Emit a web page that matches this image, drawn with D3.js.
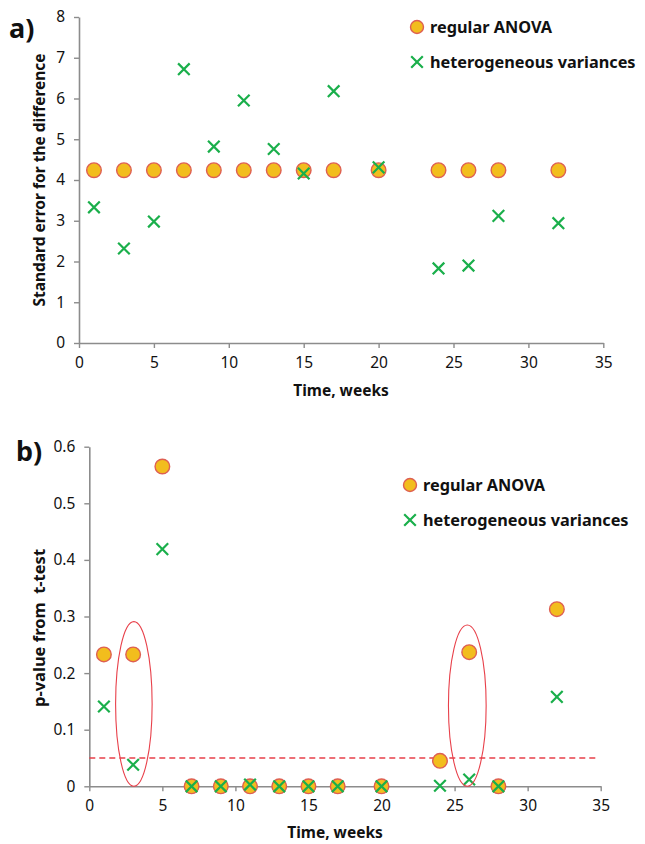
<!DOCTYPE html>
<html>
<head>
<meta charset="utf-8">
<script src="https://cdn.jsdelivr.net/npm/d3@7"></script>
<style>
  body { margin: 0; background: #fff; }
  svg text { font-family: "Noto Sans", sans-serif; fill: #111; }
</style>
</head>
<body>
<div id="chart"></div>
<script>
// sampling times (weeks)
var weeks = [1, 3, 5, 7, 9, 11, 13, 15, 17, 20, 24, 26, 28, 32];

// a) standard error for the difference
var seAnova = [4.24, 4.24, 4.24, 4.24, 4.24, 4.24, 4.24, 4.24, 4.24, 4.24, 4.24, 4.24, 4.24, 4.24];
var seHetero = [3.33, 2.32, 2.98, 6.72, 4.82, 5.95, 4.76, 4.16, 6.18, 4.31, 1.83, 1.90, 3.12, 2.94];

// b) p-value from t-test
var pAnova = [0.233, 0.233, 0.565, 0, 0, 0, 0, 0, 0, 0, 0.045, 0.237, 0, 0.313];
var pHetero = [0.141, 0.038, 0.419, 0, 0, 0.003, 0, 0, 0, 0, 0.001, 0.012, 0, 0.158];
var pThreshold = 0.05;

// circled weeks in panel b: centre week, half width (weeks), top p
var circleWeeks = [3.05, 25.87];
var circleHalfWidth = [1.25, 1.29];
var circleTop = [0.291, 0.285];

var xTicks = [0, 5, 10, 15, 20, 25, 30, 35];
var seTicks = [0, 1, 2, 3, 4, 5, 6, 7, 8];
var pTicks = [0, 0.1, 0.2, 0.3, 0.4, 0.5, 0.6];

var seriesNames = ["regular ANOVA", "heterogeneous variances"];

var AXIS = "#8c8c8c";
var FILL = "#f2bd1d";
var RING = "#de5f52";
var GREEN = "#1aaf4b";
var RED = "#e8404a";

var svg = d3.select("#chart").append("svg")
  .attr("width", 645)
  .attr("height", 844);

function drawCross(g, x, y, s) {
  g.append("path")
    .attr("d", "M" + (x - s) + "," + (y - s) + "L" + (x + s) + "," + (y + s) +
      "M" + (x - s) + "," + (y + s) + "L" + (x + s) + "," + (y - s))
    .attr("stroke", GREEN)
    .attr("stroke-width", 2.2)
    .attr("fill", "none");
}

function drawPanel(o) {
  var g = svg.append("g");
  var x = d3.scaleLinear().domain([0, 35]).range(o.xRange);
  var y = d3.scaleLinear().domain(o.yDomain).range(o.yRange);

  var xAxis = g.append("g")
    .attr("transform", "translate(0," + o.yRange[0] + ")")
    .call(d3.axisBottom(x).tickValues(xTicks).tickSize(5).tickSizeOuter(0).tickPadding(9));
  var yAxis = g.append("g")
    .attr("transform", "translate(" + o.xRange[0] + ",0)")
    .call(d3.axisLeft(y).tickValues(o.yTicks).tickFormat(o.fmt).tickSize(5).tickSizeOuter(0).tickPadding(9));

  [xAxis, yAxis].forEach(function(a) {
    a.select(".domain").attr("stroke", AXIS).attr("stroke-width", 1.6);
    a.selectAll(".tick line").attr("stroke", AXIS).attr("stroke-width", 1.4);
    a.selectAll(".tick text")
      .style("font-family", "'Noto Sans', sans-serif")
      .style("font-size", "15.5px")
      .attr("fill", "#1a1a1a");
  });

  g.append("text")
    .attr("x", o.xTitleX)
    .attr("y", o.xTitleY)
    .attr("text-anchor", "middle")
    .style("font-size", "15.5px")
    .style("font-weight", "bold")
    .text("Time, weeks");

  g.append("text")
    .attr("transform", "translate(" + o.yTitleX + "," + o.yTitleY + ") rotate(-90)")
    .attr("text-anchor", "middle")
    .style("font-size", o.yTitleSize)
    .style("font-weight", "bold")
    .style("white-space", "pre")
    .text(o.yTitle);

  g.append("text")
    .attr("x", o.tag[0])
    .attr("y", o.tag[1])
    .style("font-size", "27px")
    .style("font-weight", "bold")
    .text(o.tagText);

  if (o.threshold != null) {
    g.append("line")
      .attr("x1", x(0)).attr("x2", x(34.8))
      .attr("y1", y(o.threshold)).attr("y2", y(o.threshold))
      .attr("stroke", RED)
      .attr("stroke-width", 1.3)
      .attr("stroke-dasharray", "6,4");
  }

  g.selectAll("circle.anova")
    .data(weeks)
    .enter().append("circle")
    .attr("class", "anova")
    .attr("cx", function(d) { return x(d); })
    .attr("cy", function(d, i) { return y(o.anova[i]); })
    .attr("r", 7.3)
    .attr("fill", FILL)
    .attr("stroke", RING)
    .attr("stroke-width", 1.4);

  weeks.forEach(function(d, i) {
    drawCross(g, x(d), y(o.hetero[i]), 5.8);
  });

  if (o.rings) {
    o.rings.centers.forEach(function(c, i) {
      g.append("ellipse")
        .attr("cx", x(c))
        .attr("cy", y(o.rings.tops[i] / 2))
        .attr("rx", x(c + o.rings.half[i]) - x(c))
        .attr("ry", y(0) - y(o.rings.tops[i] / 2))
        .attr("fill", "none")
        .attr("stroke", RED)
        .attr("stroke-width", 1.1);
    });
  }

  var leg = g.append("g");
  leg.append("circle")
    .attr("cx", o.legend[0]).attr("cy", o.legend[1])
    .attr("r", 6.5)
    .attr("fill", FILL)
    .attr("stroke", RING)
    .attr("stroke-width", 1.4);
  drawCross(leg, o.legend[0], o.legend[1] + 35, 5.8);
  leg.selectAll("text")
    .data(seriesNames)
    .enter().append("text")
    .attr("x", o.legend[0] + 13)
    .attr("y", function(d, i) { return o.legend[1] + 6 + i * 35; })
    .style("font-size", "16.3px")
    .style("font-weight", "bold")
    .text(function(d) { return d; });
}

drawPanel({
  xRange: [79, 603.3],
  yRange: [343, 17],
  yDomain: [0, 8],
  yTicks: seTicks,
  fmt: d3.format("d"),
  anova: seAnova,
  hetero: seHetero,
  yTitle: "Standard error for the difference",
  yTitleX: 45, yTitleY: 180, yTitleSize: "15.5px",
  xTitleX: 341, xTitleY: 396,
  tag: [9, 38], tagText: "a)",
  legend: [417, 27]
});

drawPanel({
  xRange: [89.3, 600.7],
  yRange: [786.3, 446.7],
  yDomain: [0, 0.6],
  yTicks: pTicks,
  fmt: function(d) { return d === 0 ? "0" : d3.format(".1f")(d); },
  anova: pAnova,
  hetero: pHetero,
  threshold: pThreshold,
  rings: { centers: circleWeeks, half: circleHalfWidth, tops: circleTop },
  yTitle: "p-value from  t-test",
  yTitleX: 45, yTitleY: 628, yTitleSize: "16.5px",
  xTitleX: 335, xTitleY: 838,
  tag: [16, 461], tagText: "b)",
  legend: [410, 485]
});
</script>
</body>
</html>
